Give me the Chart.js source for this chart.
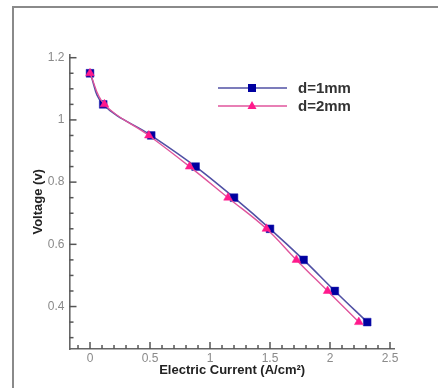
<!DOCTYPE html>
<html>
<head>
<meta charset="utf-8">
<script src="https://cdn.jsdelivr.net/npm/chart.js@4.4.1/dist/chart.umd.min.js"></script>
<style>
  html, body { margin: 0; padding: 0; background: #fff; }
  #wrap { position: relative; width: 438px; height: 388px; overflow: hidden; }
  #frame {
    position: absolute; left: 12px; top: 6px; right: -10px; bottom: -10px;
    border-left: 2px solid #8a8a8a; border-top: 2px solid #8a8a8a;
  }
  canvas { position: absolute; left: 0; top: 0; }
</style>
</head>
<body>
<div id="wrap">
  <div id="frame"></div>
  <canvas id="chart" width="438" height="388"></canvas>
</div>
<script>
// current density (A/cm2) and voltage (V)
const current1mm = [0, 0.11, 0.51, 0.88, 1.2, 1.5, 1.78, 2.04, 2.31];
const voltage1mm = [1.15, 1.05, 0.95, 0.85, 0.75, 0.65, 0.55, 0.45, 0.35];
const current2mm = [0, 0.12, 0.49, 0.83, 1.15, 1.47, 1.72, 1.98, 2.24];
const voltage2mm = [1.15, 1.05, 0.95, 0.85, 0.75, 0.65, 0.55, 0.45, 0.35];
const seriesNames = ["d=1mm", "d=2mm"];

const xMajor = [0, 0.5, 1, 1.5, 2, 2.5];
const yMajor = [0.4, 0.6, 0.8, 1, 1.2];

const toPoints = (xs, ys) => xs.map((x, i) => ({ x: x, y: ys[i] }));

// inward tick marks, major + minor
const tickMarks = {
  id: "tickMarks",
  afterDatasetsDraw(chart) {
    const ctx = chart.ctx;
    const xs = chart.scales.x;
    const ys = chart.scales.y;
    const area = chart.chartArea;
    ctx.save();
    ctx.strokeStyle = "#555";
    ctx.lineWidth = 1.5;
    for (let i = -1; i <= 25; i++) {
      const v = i / 10;
      const px = xs.getPixelForValue(v);
      if (px < area.left + 1) continue;
      const len = i % 5 === 0 ? 7 : 4;
      ctx.beginPath();
      ctx.moveTo(px, area.bottom);
      ctx.lineTo(px, area.bottom - len);
      ctx.stroke();
    }
    for (let i = 5; i <= 24; i++) {
      const v = i / 20;
      const py = ys.getPixelForValue(v);
      if (py > area.bottom - 1) continue;
      const len = i % 4 === 0 ? 7 : 4;
      ctx.beginPath();
      ctx.moveTo(area.left, py);
      ctx.lineTo(area.left + len, py);
      ctx.stroke();
    }
    ctx.restore();
  }
};

// legend drawn inside the plot area
const innerLegend = {
  id: "innerLegend",
  afterDraw(chart) {
    const ctx = chart.ctx;
    ctx.save();
    chart.data.datasets.forEach((ds, i) => {
      const y = 88 + i * 18;
      ctx.strokeStyle = ds.borderColor;
      ctx.lineWidth = 1.5;
      ctx.beginPath();
      ctx.moveTo(218, y);
      ctx.lineTo(287, y);
      ctx.stroke();
      ctx.fillStyle = ds.pointBackgroundColor;
      ctx.beginPath();
      if (ds.pointStyle === "rect") {
        ctx.rect(248, y - 4, 8, 8);
      } else {
        ctx.moveTo(252, y - 5);
        ctx.lineTo(256.5, y + 3);
        ctx.lineTo(247.5, y + 3);
        ctx.closePath();
      }
      ctx.fill();
      ctx.fillStyle = "#333";
      ctx.font = "bold 15px 'Liberation Sans', Arial, sans-serif";
      ctx.textBaseline = "middle";
      ctx.fillText(ds.label, 298, y + 1);
    });
    ctx.restore();
  }
};

new Chart(document.getElementById("chart"), {
  type: "scatter",
  data: {
    datasets: [
      {
        label: seriesNames[0],
        data: toPoints(current1mm, voltage1mm),
        showLine: true,
        tension: 0.4,
        borderColor: "#5050a4",
        borderWidth: 1.6,
        pointStyle: "rect",
        pointRadius: 5.5,
        pointBackgroundColor: "#0000a0",
        pointBorderColor: "#2020b0",
        pointBorderWidth: 0.5,
        order: 2
      },
      {
        label: seriesNames[1],
        data: toPoints(current2mm, voltage2mm),
        showLine: true,
        tension: 0.4,
        borderColor: "#e0559c",
        borderWidth: 1.4,
        pointStyle: "triangle",
        pointRadius: 5,
        pointBackgroundColor: "#ff1a8c",
        pointBorderColor: "#ff1a8c",
        pointBorderWidth: 0.5,
        order: 1
      }
    ]
  },
  options: {
    responsive: false,
    animation: false,
    layout: {
      autoPadding: false,
      padding: { left: 30.2, top: 54.6, right: 43.2, bottom: 10.2 }
    },
    plugins: {
      legend: { display: false },
      tooltip: { enabled: false }
    },
    scales: {
      x: {
        type: "linear",
        bounds: "data",
        min: -0.171,
        max: 2.54,
        afterBuildTicks: (s) => { s.ticks = xMajor.map((v) => ({ value: v })); },
        afterFit: (s) => { s.height = 28.8; s.paddingLeft = 0; s.paddingRight = 0; },
        grid: { display: false, drawTicks: false },
        border: { display: true, color: "#666", width: 1.6 },
        ticks: {
          padding: 2,
          color: "#8a8a8a",
          font: { family: "'Liberation Sans', Arial, sans-serif", size: 12 },
          maxRotation: 0,
          callback: (v) => String(v)
        },
        title: {
          display: true,
          text: "Electric Current (A/cm²)",
          color: "#222",
          padding: 0,
          font: { family: "'Liberation Sans', Arial, sans-serif", size: 13, weight: "bold" }
        }
      },
      y: {
        type: "linear",
        bounds: "data",
        min: 0.2635,
        max: 1.21,
        afterBuildTicks: (s) => { s.ticks = yMajor.map((v) => ({ value: v })); },
        afterFit: (s) => { s.width = 39.3; s.paddingTop = 0; s.paddingBottom = 0; },
        grid: { display: false, drawTicks: false },
        border: { display: true, color: "#666", width: 1.6 },
        ticks: {
          padding: 5,
          color: "#8a8a8a",
          font: { family: "'Liberation Sans', Arial, sans-serif", size: 12 },
          callback: (v) => String(v)
        },
        title: {
          display: true,
          text: "Voltage (v)",
          color: "#222",
          padding: 0,
          font: { family: "'Liberation Sans', Arial, sans-serif", size: 13, weight: "bold" }
        }
      }
    }
  },
  plugins: [tickMarks, innerLegend]
});
</script>
</body>
</html>
